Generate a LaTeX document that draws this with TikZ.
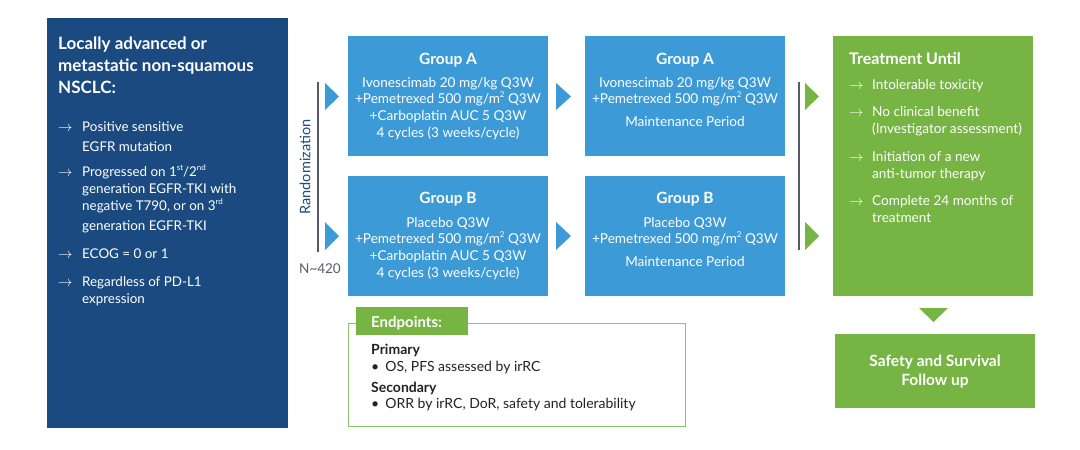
\documentclass[tikz,border=0pt]{standalone}
\usepackage{fontspec}
\setmainfont{Lato}
\definecolor{navy}{HTML}{1A4A80}
\definecolor{cblue}{HTML}{3C9AD6}
\definecolor{cgreen}{HTML}{76B443}
\definecolor{lgreen}{HTML}{8CC66A}
\definecolor{lgrey}{HTML}{555B66}
\definecolor{txt}{HTML}{222222}
\newcommand\tfix{\rule{0pt}{12pt}}
\newcommand\arr{\makebox[24pt][l]{$\rightarrow$}}
\newcommand\ind{\hspace*{24pt}}
\newcommand\arrb{\makebox[23pt][l]{$\rightarrow$}}
\newcommand\indb{\hspace*{23pt}}
\newcommand\sps[1]{\raisebox{0.85ex}{\fontsize{8}{8}\selectfont #1}}
\begin{document}
\begin{tikzpicture}[x=1pt,y=-1pt,
  panel/.style={draw=none, inner sep=0, outer sep=0, anchor=north west},
  ttl/.style={font=\fontsize{15.5}{19}\selectfont\bfseries, text=white, inner sep=0},
  body/.style={font=\fontsize{13.6}{16.6}\selectfont, text=white, inner sep=0, align=center, anchor=north},
  bul/.style={font=\fontsize{13.4}{17}\selectfont, text=white, inner sep=0, align=left, anchor=north west},
  ep/.style={font=\fontsize{14}{16}\selectfont, text=txt, inner sep=0, anchor=base west},
  eph/.style={font=\fontsize{14}{16}\selectfont\bfseries, text=txt, inner sep=0, anchor=base west},
  tri/.style={fill=#1, draw=none}
]
\useasboundingbox (0,0) rectangle (1080,450);

% left panel
\node[panel, fill=navy, minimum width=241pt, minimum height=410pt] (crit) at (47,18) {};
\node[font=\fontsize{17}{22}\selectfont\bfseries, text=white, inner sep=0, align=left, anchor=north west] (critT) at (58,37)
  {\tfix Locally advanced or\\metastatic non-squamous\\NSCLC:};
\node[bul, font=\fontsize{13.4}{20}\selectfont] (c1) at (58,119) {\tfix\arr Positive sensitive\\\ind EGFR mutation};
\node[bul] (c2) at (58,164) {\tfix\arr Progressed on 1\sps{st}/2\sps{nd}\\\ind generation EGFR-TKI with\\\ind negative T790, or on 3\sps{rd}\\[3pt]\ind generation EGFR-TKI};
\node[bul] (c3) at (58,246) {\tfix\arr ECOG = 0 or 1};
\node[bul] (c4) at (58,274) {\tfix\arr Regardless of PD-L1\\\ind expression};

% randomization
\draw[lgrey, line width=2pt] (318,82) coordinate (r1) -- (318,252) coordinate (r2);
\node[rotate=90, font=\fontsize{14.5}{16}\selectfont, text=navy, inner sep=0] (rand) at (305,167) {Randomization};
\node[font=\fontsize{13.5}{14}\selectfont, text=lgrey, inner sep=0, anchor=base] (n) at (320,273) {N\textasciitilde 420};
\fill[tri=cblue] (325,83) -- (339,96.5) -- (325,110) -- cycle;
\fill[tri=cblue] (325,222) -- (339,236) -- (325,250) -- cycle;

% group boxes (induction)
\node[panel, fill=cblue, minimum width=200pt, minimum height=120pt] (gA1) at (348,36) {};
\node[panel, fill=cblue, minimum width=200pt, minimum height=120pt] (gB1) at (348,176) {};
\node[ttl, anchor=base] (gA1t) at (448,64) {Group A};
\node[body] (gA1b) at (448,75) {\tfix Ivonescimab 20 mg/kg Q3W\\+Pemetrexed 500 mg/m\sps{2} Q3W\\+Carboplatin AUC 5 Q3W\\4 cycles (3 weeks/cycle)};
\node[ttl, anchor=base] (gB1t) at (448,203) {Group B};
\node[body] (gB1b) at (448,215) {\tfix Placebo Q3W\\+Pemetrexed 500 mg/m\sps{2} Q3W\\+Carboplatin AUC 5 Q3W\\4 cycles (3 weeks/cycle)};

\fill[tri=cblue] (556,83) -- (571,96.5) -- (556,110) -- cycle;
\fill[tri=cblue] (556,222) -- (571,236) -- (556,250) -- cycle;

% maintenance
\node[panel, fill=cblue, minimum width=200pt, minimum height=120pt] (gA2) at (585,36) {};
\node[panel, fill=cblue, minimum width=200pt, minimum height=120pt] (gB2) at (585,176) {};
\node[ttl, anchor=base] (gA2t) at (685,64) {Group A};
\node[body] (gA2b) at (685,75) {\tfix Ivonescimab 20 mg/kg Q3W\\+Pemetrexed 500 mg/m\sps{2} Q3W\\[6pt]Maintenance Period};
\node[ttl, anchor=base] (gB2t) at (685,203) {Group B};
\node[body] (gB2b) at (685,215) {\tfix Placebo Q3W\\+Pemetrexed 500 mg/m\sps{2} Q3W\\[6pt]Maintenance Period};

\draw[lgrey, line width=2pt] (799,82) -- (799,250);
\fill[tri=cgreen] (805,83) -- (819,96.5) -- (805,110) -- cycle;
\fill[tri=cgreen] (805,222) -- (819,236) -- (805,250) -- cycle;

% treatment until
\node[panel, fill=cgreen, minimum width=200pt, minimum height=260pt] (tu) at (833,36) {};
\node[ttl, font=\fontsize{16}{19}\selectfont\bfseries, anchor=base west] (tut) at (849,64) {Treatment Until};
\node[bul, font=\fontsize{13.6}{16.8}\selectfont] (t1) at (849,77) {\tfix\arrb Intolerable toxicity};
\node[bul, font=\fontsize{13.6}{16.8}\selectfont] (t2) at (849,104) {\tfix\arrb No clinical benefit\\\indb (Investigator assessment)};
\node[bul, font=\fontsize{13.6}{16.8}\selectfont] (t3) at (849,149) {\tfix\arrb Initiation of a new\\\indb anti-tumor therapy};
\node[bul, font=\fontsize{13.6}{16.8}\selectfont] (t4) at (849,193) {\tfix\arrb Complete 24 months of\\\indb treatment};

\fill[tri=cgreen] (919,308) -- (948,308) -- (933.5,322) -- cycle;

\node[panel, fill=cgreen, minimum width=200pt, minimum height=74pt] (sf) at (835,334) {};
\node[ttl, align=center, anchor=north] (sft) at (935,354) {\tfix Safety and Survival\\Follow up};

% endpoints
\node[panel, draw=lgreen, line width=1pt, minimum width=337pt, minimum height=103pt] (epb) at (348,323) {};
\node[panel, fill=cgreen, minimum width=112pt, minimum height=28pt] (ept) at (356,307) {};
\node[ttl, font=\fontsize{15}{19}\selectfont\bfseries, anchor=base west] (eptt) at (371,327) {Endpoints:};
\node[eph] (pri) at (371,354) {Primary};
\node[ep] (pri1) at (371,371) {•\hspace{6pt}OS, PFS assessed by irRC};
\node[eph] (sec) at (371,392) {Secondary};
\node[ep] (sec1) at (371,408) {•\hspace{6pt}ORR by irRC, DoR, safety and tolerability};
\end{tikzpicture}
\end{document}
